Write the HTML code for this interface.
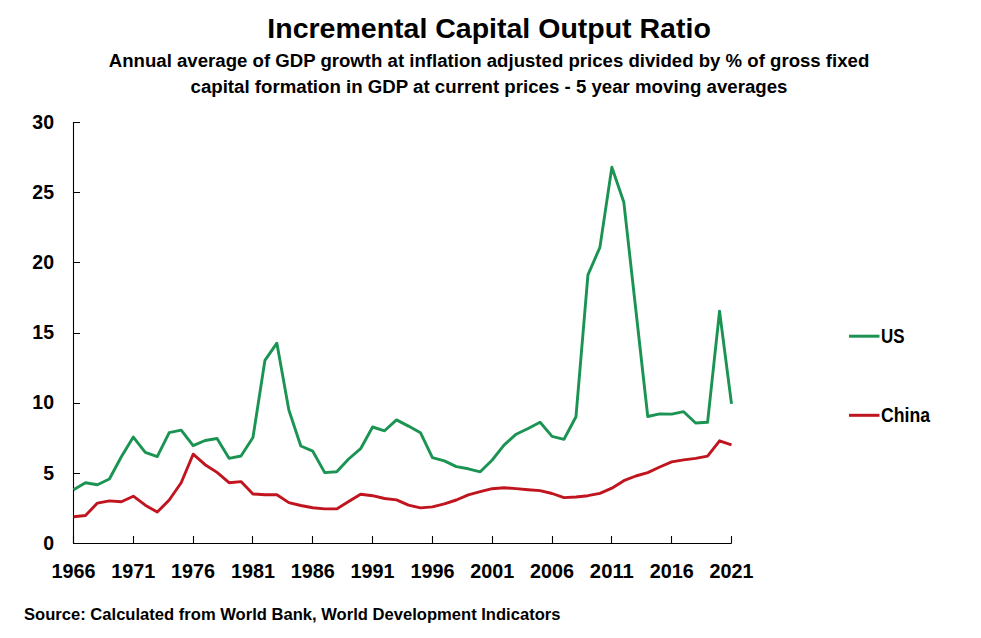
<!DOCTYPE html>
<html><head><meta charset="utf-8"><title>Incremental Capital Output Ratio</title>
<style>
html,body{margin:0;padding:0;background:#fff;}
body{width:981px;height:638px;overflow:hidden;}
svg{display:block;}
text{font-family:"Liberation Sans",sans-serif;font-weight:bold;fill:#000;}
.title{font-size:27.4px;}
.sub{font-size:18.8px;}
.ax{font-size:19.5px;}
.src{font-size:15.9px;}
.leg{font-size:20px;}
</style></head>
<body>
<svg width="981" height="638" viewBox="0 0 981 638">
<rect width="981" height="638" fill="#fff"/>
<path d="M73.5 122V543.5H731.5" fill="none" stroke="#000" stroke-width="1.1"/>
<path d="M73.5 543.50H80 M73.5 473.50H80 M73.5 403.50H80 M73.5 333.50H80 M73.5 262.50H80 M73.5 192.50H80 M73.5 122.50H80 M73.50 543.5V536 M133.50 543.5V536 M193.50 543.5V536 M252.50 543.5V536 M312.50 543.5V536 M372.50 543.5V536 M432.50 543.5V536 M492.50 543.5V536 M552.50 543.5V536 M611.50 543.5V536 M671.50 543.5V536 M731.50 543.5V536" fill="none" stroke="#000" stroke-width="1.1"/>
<polyline points="73.50,489.70 85.46,482.70 97.43,484.70 109.39,479.00 121.35,456.70 133.32,437.10 145.28,452.30 157.25,456.60 169.21,432.70 181.17,430.20 193.14,445.70 205.10,440.50 217.06,438.50 229.03,458.30 240.99,456.00 252.95,437.50 264.92,360.40 276.88,343.20 288.85,410.00 300.81,446.00 312.77,451.20 324.74,472.60 336.70,471.80 348.66,459.00 360.63,448.70 372.59,427.00 384.55,430.80 396.52,419.90 408.48,426.10 420.45,432.70 432.41,457.60 444.37,460.90 456.34,466.60 468.30,468.80 480.26,471.80 492.23,460.00 504.19,444.90 516.15,434.20 528.12,428.50 540.08,422.30 552.05,436.40 564.01,439.30 575.97,416.70 587.94,274.90 599.90,247.40 611.86,167.20 623.83,202.30 635.79,309.50 647.75,416.50 659.72,413.90 671.68,414.10 683.65,411.70 695.61,423.00 707.57,422.30 719.54,311.20 731.50,403.90" fill="none" stroke="#1b9453" stroke-width="2.9" stroke-linejoin="round" stroke-linecap="butt"/>
<polyline points="73.50,516.70 85.46,515.50 97.43,503.10 109.39,500.90 121.35,501.70 133.32,496.20 145.28,505.20 157.25,512.10 169.21,500.00 181.17,482.70 193.14,454.20 205.10,464.70 217.06,472.40 229.03,482.70 240.99,481.60 252.95,494.00 264.92,494.70 276.88,494.70 288.85,502.60 300.81,505.50 312.77,507.70 324.74,508.90 336.70,508.90 348.66,501.40 360.63,494.20 372.59,495.70 384.55,498.50 396.52,499.90 408.48,505.10 420.45,507.90 432.41,506.90 444.37,503.80 456.34,500.00 468.30,494.80 480.26,491.70 492.23,488.70 504.19,487.80 516.15,488.60 528.12,489.70 540.08,490.60 552.05,493.50 564.01,497.60 575.97,497.00 587.94,495.70 599.90,493.30 611.86,488.20 623.83,480.70 635.79,476.00 647.75,472.60 659.72,467.00 671.68,461.90 683.65,459.90 695.61,458.40 707.57,456.10 719.54,440.80 731.50,444.90" fill="none" stroke="#c0141e" stroke-width="2.9" stroke-linejoin="round" stroke-linecap="butt"/>
<path d="M849 336.2H879.5" stroke="#1b9453" stroke-width="3"/>
<path d="M849 415.3H879.5" stroke="#c0141e" stroke-width="3"/>
<text class="ax" x="54" y="549.70" text-anchor="end">0</text>
<text class="ax" x="54" y="479.53" text-anchor="end">5</text>
<text class="ax" x="54" y="409.37" text-anchor="end">10</text>
<text class="ax" x="54" y="339.20" text-anchor="end">15</text>
<text class="ax" x="54" y="269.03" text-anchor="end">20</text>
<text class="ax" x="54" y="198.87" text-anchor="end">25</text>
<text class="ax" x="54" y="128.70" text-anchor="end">30</text>
<text class="ax" x="73.50" y="577.8" text-anchor="middle" textLength="44" lengthAdjust="spacingAndGlyphs">1966</text>
<text class="ax" x="133.32" y="577.8" text-anchor="middle" textLength="44" lengthAdjust="spacingAndGlyphs">1971</text>
<text class="ax" x="193.14" y="577.8" text-anchor="middle" textLength="44" lengthAdjust="spacingAndGlyphs">1976</text>
<text class="ax" x="252.95" y="577.8" text-anchor="middle" textLength="44" lengthAdjust="spacingAndGlyphs">1981</text>
<text class="ax" x="312.77" y="577.8" text-anchor="middle" textLength="44" lengthAdjust="spacingAndGlyphs">1986</text>
<text class="ax" x="372.59" y="577.8" text-anchor="middle" textLength="44" lengthAdjust="spacingAndGlyphs">1991</text>
<text class="ax" x="432.41" y="577.8" text-anchor="middle" textLength="44" lengthAdjust="spacingAndGlyphs">1996</text>
<text class="ax" x="492.23" y="577.8" text-anchor="middle" textLength="44" lengthAdjust="spacingAndGlyphs">2001</text>
<text class="ax" x="552.05" y="577.8" text-anchor="middle" textLength="44" lengthAdjust="spacingAndGlyphs">2006</text>
<text class="ax" x="611.86" y="577.8" text-anchor="middle" textLength="44" lengthAdjust="spacingAndGlyphs">2011</text>
<text class="ax" x="671.68" y="577.8" text-anchor="middle" textLength="44" lengthAdjust="spacingAndGlyphs">2016</text>
<text class="ax" x="731.50" y="577.8" text-anchor="middle" textLength="44" lengthAdjust="spacingAndGlyphs">2021</text>
<text class="title" x="267.3" y="37.8" textLength="443.5" lengthAdjust="spacingAndGlyphs">Incremental Capital Output Ratio</text>
<text class="sub" x="108.8" y="66.8" textLength="760.5" lengthAdjust="spacingAndGlyphs">Annual average of GDP growth at inflation adjusted prices divided by % of gross fixed</text>
<text class="sub" x="190.5" y="92.6" textLength="597" lengthAdjust="spacingAndGlyphs">capital formation in GDP at current prices - 5 year moving averages</text>
<text class="src" x="24" y="620.1" textLength="536.5" lengthAdjust="spacingAndGlyphs">Source: Calculated from World Bank, World Development Indicators</text>
<text class="leg" x="881" y="342.6" textLength="23.5" lengthAdjust="spacingAndGlyphs">US</text>
<text class="leg" x="881" y="421.9" textLength="49" lengthAdjust="spacingAndGlyphs">China</text>
</svg>
</body></html>
